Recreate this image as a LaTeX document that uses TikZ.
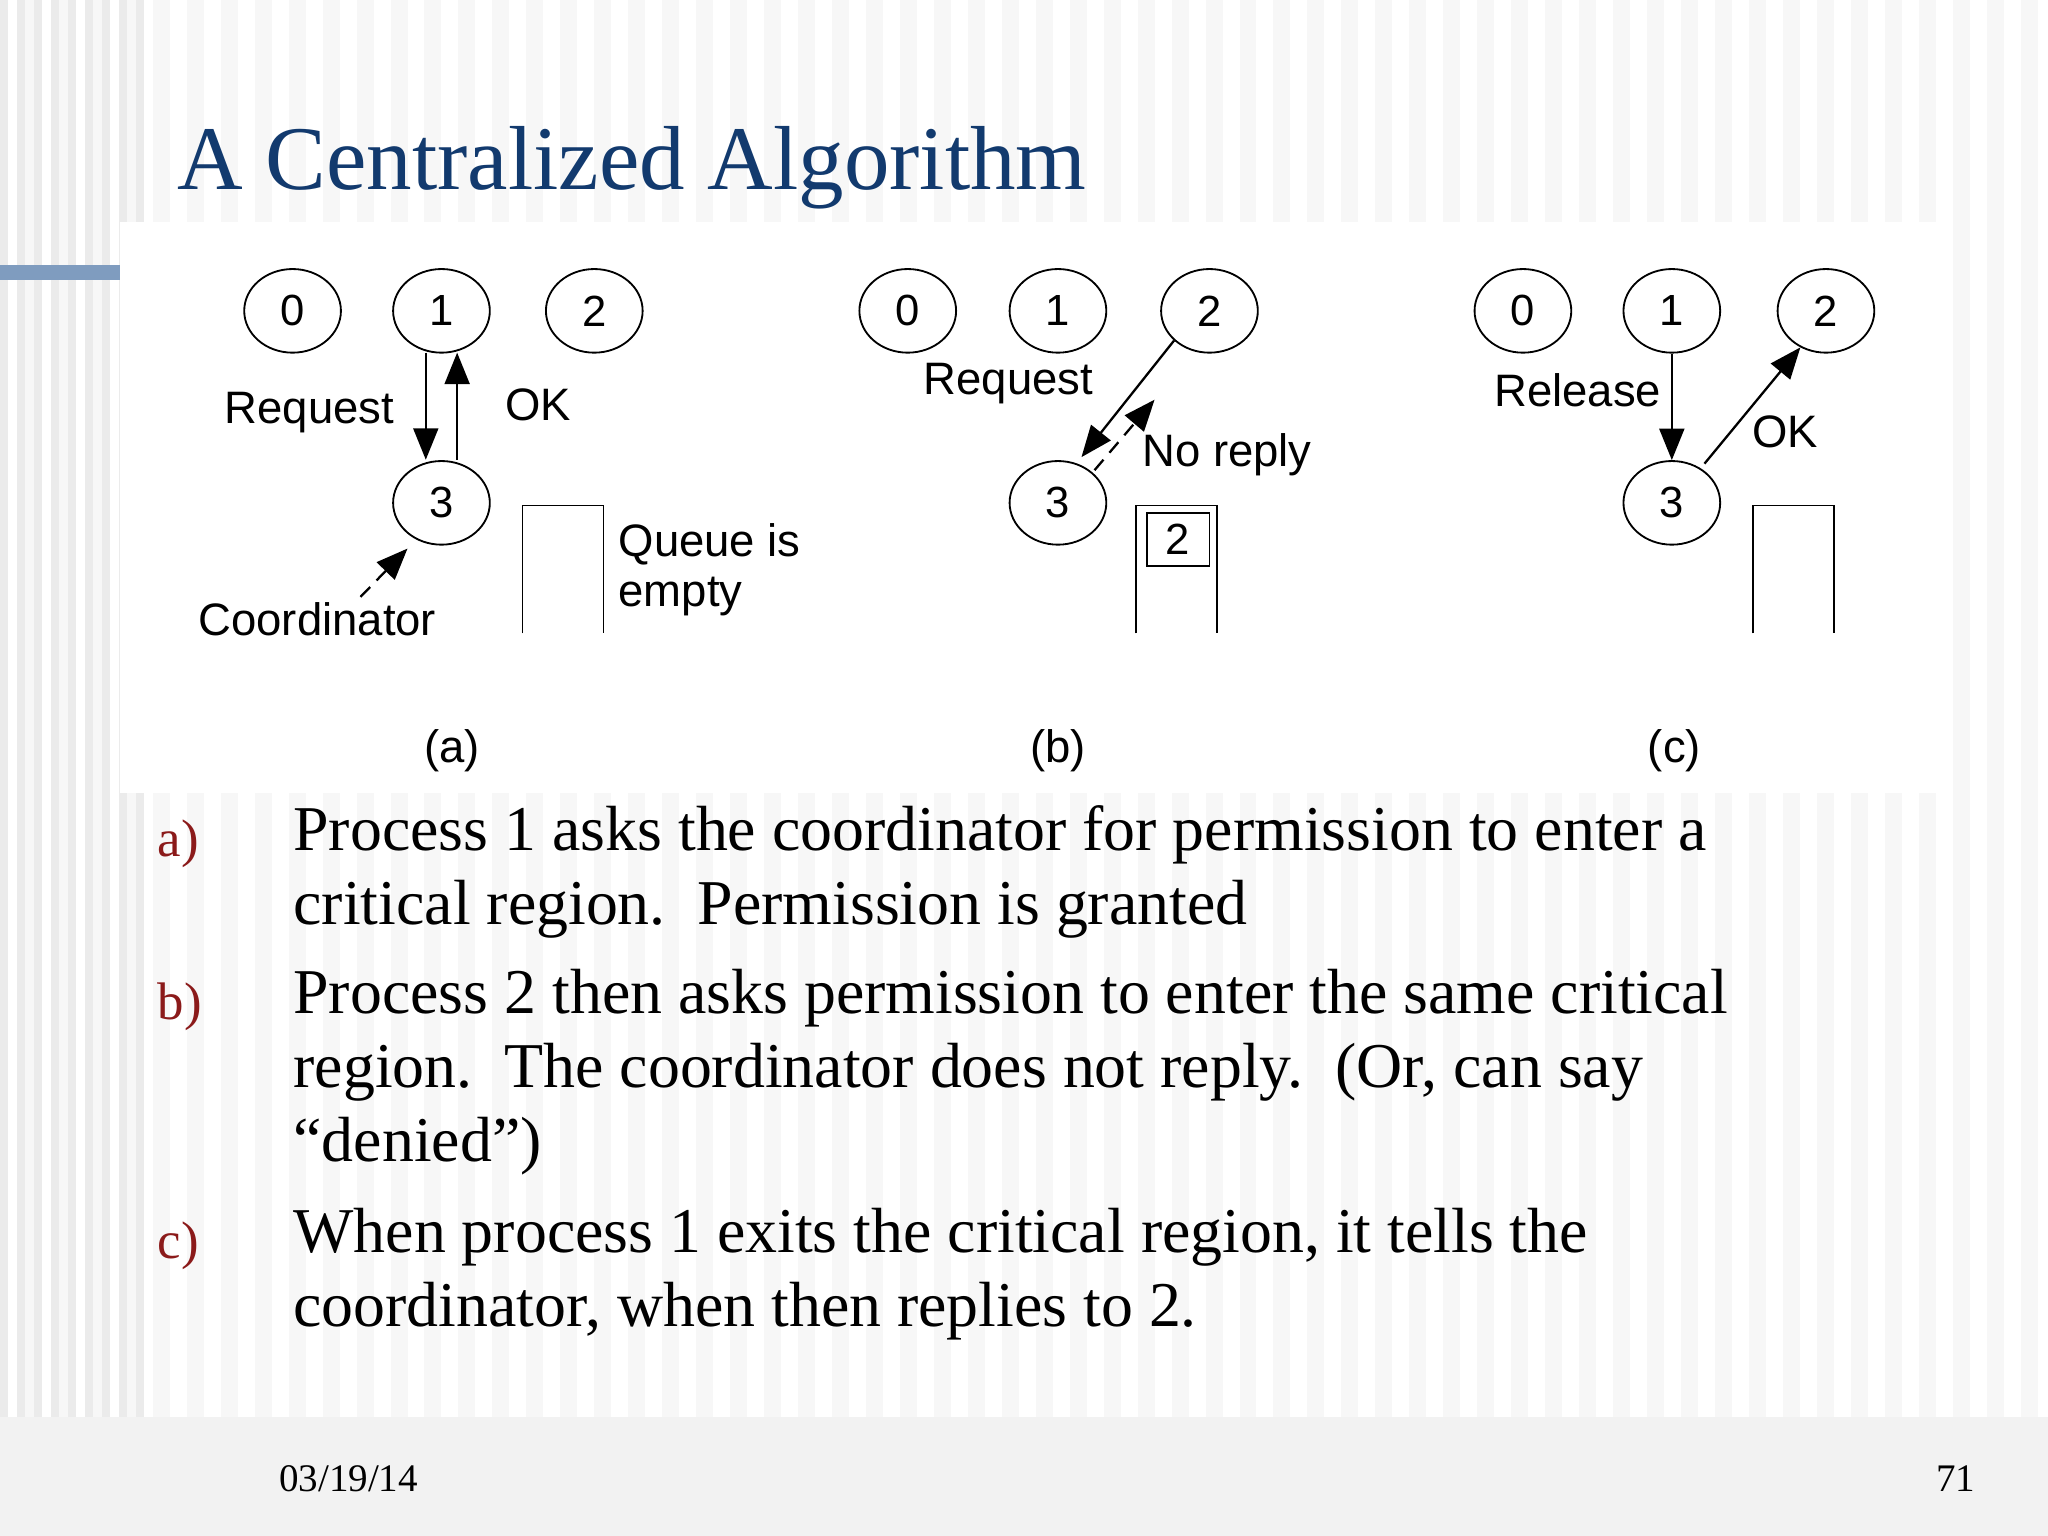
\documentclass[tikz,border=0pt]{standalone}
\usepackage{fontspec}
\setmainfont{Liberation Serif}
\newfontfamily\diag{Liberation Sans}
\usetikzlibrary{arrows.meta,shapes.geometric}
\definecolor{ttl}{HTML}{123A6E}
\definecolor{bul}{HTML}{8B1A1A}
\definecolor{bar}{HTML}{7F9CBF}
\begin{document}
\begin{tikzpicture}[x=0.01cm,y=-0.01cm,
  proc/.style={draw,ellipse,minimum width=0.74cm,minimum height=0.64cm,inner sep=0pt,font=\diag\fontsize{9.5}{12}\selectfont},
  lab/.style={font=\diag\fontsize{9.9}{12}\selectfont,inner sep=0pt},
  arr/.style={-{Triangle[length=0.24cm,width=0.19cm]},line width=0.5pt},
  body/.style={font=\fontsize{13.9}{16.2}\selectfont,anchor=north west,inner sep=0pt,align=left},
  blab/.style={font=\fontsize{11.5}{14}\selectfont,text=bul,anchor=north west,inner sep=0pt}]
\useasboundingbox (0,0) rectangle (1568,1176);
\fill[gray!6] (0,0) rectangle (1568,1176);
\foreach \i in {0,...,60}{\fill[white] (\i*26,0) rectangle (\i*26+13,1085);}
\foreach \i in {0,...,8}{\fill[gray!16] (\i*13,0) rectangle (\i*13+6,1085);}
\fill[gray!10] (0,1085) rectangle (1568,1176);
\fill[bar] (0,203) rectangle (92,214);
\node[anchor=base west,inner sep=0pt,text=ttl,font=\fontsize{19.8}{24}\selectfont] (title) at (135,145) {A Centralized Algorithm};
\fill[white] (92,170) rectangle (1490,607);
% panel a
\node[proc] (a0) at (224,238) {0};
\node[proc] (a1) at (338,238) {1};
\node[proc] (a2) at (455,238) {2};
\node[proc] (a3) at (338,385) {3};
\coordinate (ar1) at (326,270); \coordinate (ar2) at (326,352);
\coordinate (ao1) at (350,352); \coordinate (ao2) at (350,270);
\draw[arr] (ar1) -- (ar2);
\draw[arr] (ao1) -- (ao2);
\node[lab] (areq) at (237,316) {Request};
\node[lab] (aok) at (412,310) {OK};
\node[lab] (acoord) at (243,474) {Coordinator};
\coordinate (ac1) at (276,457); \coordinate (ac2) at (312,420);
\draw[arr,dash pattern=on 3pt off 2pt] (ac1) -- (ac2);
\draw (400,485) -- (400,387) -- (462,387) -- (462,485);
\node[lab,anchor=north west,align=left] (aq) at (473,400) {Queue is\\[-1pt]empty};
\node[lab] (la) at (346,575) {(a)};
% panel b
\node[proc] (b0) at (695,238) {0};
\node[proc] (b1) at (810,238) {1};
\node[proc] (b2) at (926,238) {2};
\node[proc] (b3) at (810,385) {3};
\coordinate (bq1) at (838,360); \coordinate (bq2) at (884,306);
\draw[arr] (b2.220) -- (828,350);
\draw[arr,dash pattern=on 3pt off 2pt] (bq1) -- (bq2);
\node[lab] (breq) at (772,294) {Request};
\node[lab,anchor=west] (bno) at (874,348) {No reply};
\draw (870,485) -- (870,387) -- (932,387) -- (932,485);
\node[draw,minimum width=0.48cm,minimum height=0.41cm,inner sep=0pt,font=\diag\fontsize{9.5}{12}\selectfont] (bqi) at (902,413) {2};
\node[lab] (lb) at (810,575) {(b)};
% panel c
\node[proc] (c0) at (1166,238) {0};
\node[proc] (c1) at (1280,238) {1};
\node[proc] (c2) at (1398,238) {2};
\node[proc] (c3) at (1280,385) {3};
\draw[arr] (c1) -- (c3);
\coordinate (co1) at (1305,355);
\draw[arr] (co1) -- (c2.235);
\node[lab] (crel) at (1208,299) {Release};
\node[lab] (cok) at (1367,331) {OK};
\draw (1342,485) -- (1342,387) -- (1404,387) -- (1404,485);
\node[lab] (lc) at (1282,575) {(c)};
% text
\node[blab] (ba) at (120,627) {a)};
\node[body] (ta) at (224,616) {Process 1 asks the coordinator for permission to enter a\\critical region.\ \ Permission is granted};
\node[blab] (bb) at (120,752) {b)};
\node[body] (tb) at (224,741) {Process 2 then asks permission to enter the same critical\\region.\ \ The coordinator does not reply.\ \ (Or, can say\\“denied”)};
\node[blab] (bc) at (120,935) {c)};
\node[body] (tc) at (224,924) {When process 1 exits the critical region, it tells the\\coordinator, when then replies to 2.};
\node[font=\fontsize{8.5}{10}\selectfont,anchor=base west,inner sep=0pt] (date) at (213,1142) {03/19/14};
\node[font=\fontsize{8.5}{10}\selectfont,anchor=base east,inner sep=0pt] (pg) at (1513,1142) {71};
\end{tikzpicture}
\end{document}
